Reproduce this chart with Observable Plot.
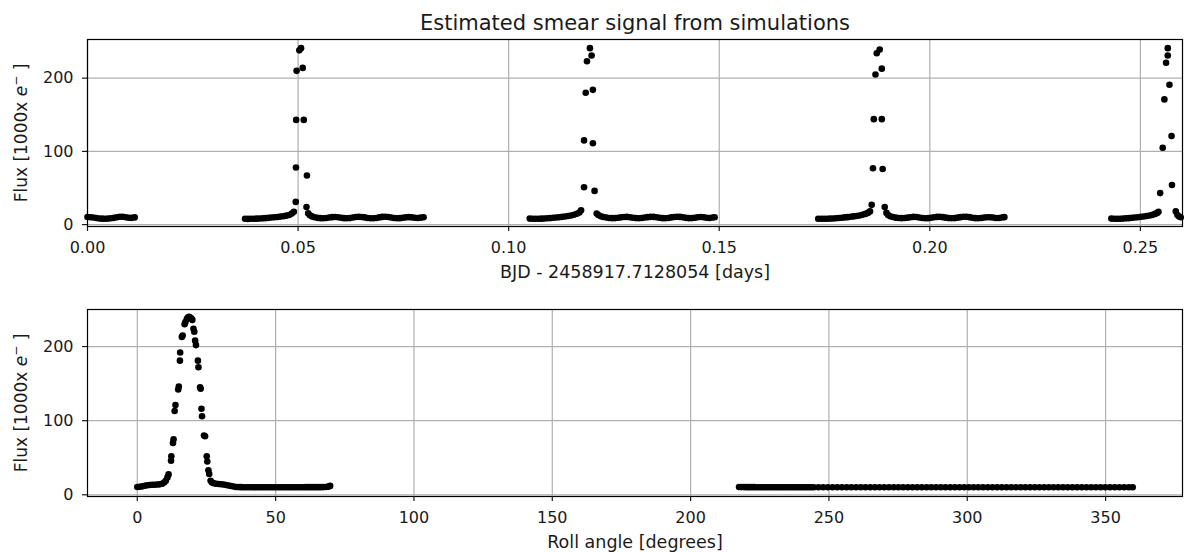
<!DOCTYPE html>
<html><head><meta charset="utf-8">
<script src="https://cdn.jsdelivr.net/npm/d3@7"></script>
<script src="https://cdn.jsdelivr.net/npm/@observablehq/plot@0.6"></script>
<style>
html,body{margin:0;padding:0;background:#fff;}
body{width:1184px;height:553px;position:relative;overflow:hidden;}
#top,#bottom{position:absolute;left:0;}
#top{top:0}#bottom{top:290px}
svg{display:block}
</style></head><body>
<div id="top"></div><div id="bottom"></div>
<script>
// ---------- texts ----------
const titleText = "Estimated smear signal from simulations";
const topXLabel = "BJD - 2458917.7128054 [days]";
const bottomXLabel = "Roll angle [degrees]";
const yLabel = "Flux [1000x e− ]";

// ---------- ticks ----------
const topXTicks = [0, 0.05, 0.10, 0.15, 0.20, 0.25];
const bottomXTicks = [0, 50, 100, 150, 200, 250, 300, 350];
const yTicks = [0, 100, 200];

// ---------- top panel: flux vs time (days), segment by segment ----------
const timeA = [0.0000,0.0007,0.0014,0.0021,0.0028,0.0035,0.0042,0.0049,0.0056,0.0063,0.0070,0.0077,0.0084,0.0091,0.0098,0.0105,0.0112];
const fluxA = [10.4,10.1,9.7,9.0,8.4,8.1,8.0,8.2,8.6,9.2,10.0,10.7,10.8,10.1,9.3,9.2,9.8];

const timeB = [0.0374,0.0381,0.0388,0.0395,0.0402,0.0409,0.0416,0.0423,0.0430,0.0437,0.0444,0.0451,0.0458,0.0465,0.0472,0.0479,0.0485,0.0490,
  0.04945,0.0495,0.04955,0.04965,0.0503,0.0507,0.0511,0.05135,0.0521,0.0520,
  0.0524,0.0528,0.0533,0.0539,0.0546,0.0553,0.0560,0.0567,0.0574,0.0581,0.0588,0.0595,0.0602,0.0609,0.0616,0.0623,0.0630,0.0637,0.0644,0.0651,0.0658,0.0665,0.0672,0.0679,0.0686,0.0693,0.0700,0.0707,0.0714,0.0721,0.0728,0.0735,0.0742,0.0749,0.0756,0.0763,0.0770,0.0777,0.0784,0.0791,0.0798];
const fluxB = [8.0,7.8,7.9,8.0,8.1,8.3,8.5,8.8,9.2,9.6,10.0,10.4,10.9,11.5,12.2,13.2,15.0,17.5,
  31,78,143,210,238,241,214,143,67,24,
  15.5,12.8,11.2,10.0,9.2,8.8,8.7,9.0,9.6,10.2,10.4,10.1,9.4,8.8,8.6,8.9,9.6,10.3,10.6,10.4,9.8,9.1,8.7,8.7,9.1,9.8,10.5,10.7,10.4,9.7,9.0,8.7,8.8,9.3,9.9,10.2,9.9,9.3,9.1,9.5,10.0];

const timeC = [0.1050,0.1057,0.1064,0.1071,0.1078,0.1085,0.1092,0.1099,0.1106,0.1113,0.1120,0.1127,0.1134,0.1141,0.1148,0.1155,0.1162,0.1168,0.1172,
  0.1179,0.1179,0.1183,0.1186,0.1193,0.1197,0.1200,0.1200,0.1204,0.1209,
  0.1213,0.1219,0.1225,0.1232,0.1239,0.1246,0.1253,0.1260,0.1267,0.1274,0.1281,0.1288,0.1295,0.1302,0.1309,0.1316,0.1323,0.1330,0.1337,0.1344,0.1351,0.1358,0.1365,0.1372,0.1379,0.1386,0.1393,0.1400,0.1407,0.1414,0.1421,0.1428,0.1435,0.1442,0.1449,0.1456,0.1463,0.1470,0.1477,0.1484,0.1489];
const fluxC = [8.2,8.0,7.9,8.0,8.1,8.3,8.6,8.9,9.3,9.7,10.1,10.6,11.1,11.7,12.4,13.4,14.8,16.5,19.5,
  51,115,180,223,241,231,184,111,46,15,
  13.0,11.5,10.4,9.6,9.1,8.8,8.9,9.3,9.9,10.4,10.5,10.1,9.4,8.9,8.7,9.0,9.6,10.2,10.6,10.5,10.0,9.3,8.8,8.7,9.1,9.8,10.4,10.7,10.5,9.9,9.2,8.8,8.9,9.4,10.0,10.3,10.0,9.4,9.1,9.6,10.1];

const timeD = [0.1735,0.1742,0.1749,0.1756,0.1763,0.1770,0.1777,0.1784,0.1791,0.1798,0.1805,0.1812,0.1819,0.1826,0.1833,0.1840,0.1847,0.1853,0.1858,
  0.1862,0.1865,0.1867,0.1871,0.1874,0.1881,0.1886,0.1886,0.1888,0.1893,
  0.1897,0.1901,0.1906,0.1912,0.1919,0.1926,0.1933,0.1940,0.1947,0.1954,0.1961,0.1968,0.1975,0.1982,0.1989,0.1996,0.2003,0.2010,0.2017,0.2024,0.2031,0.2038,0.2045,0.2052,0.2059,0.2066,0.2073,0.2080,0.2087,0.2094,0.2101,0.2108,0.2115,0.2122,0.2129,0.2136,0.2143,0.2150,0.2157,0.2164,0.2171,0.2177];
const fluxD = [8.0,7.9,7.9,8.0,8.2,8.4,8.7,9.0,9.4,9.8,10.2,10.7,11.2,11.8,12.5,13.4,14.6,16.0,18.0,
  27,77,144,205,234,239,213,144,76,24,
  16.0,13.2,11.5,10.3,9.5,9.0,8.8,9.0,9.5,10.1,10.5,10.3,9.7,9.0,8.7,8.8,9.3,10.0,10.5,10.6,10.2,9.5,8.9,8.7,8.9,9.5,10.2,10.7,10.7,10.2,9.4,8.8,8.7,9.0,9.6,10.1,10.1,9.6,9.1,9.0,9.6,10.2];

const timeE = [0.2431,0.2438,0.2445,0.2452,0.2459,0.2466,0.2473,0.2480,0.2487,0.2494,0.2501,0.2508,0.2515,0.2522,0.2529,0.2535,0.2540,
  0.2543,0.2547,0.2553,0.2557,0.2561,0.2565,0.2565,0.2569,0.2574,0.2575,
  0.2584,0.2588,0.2592,0.2596];
const fluxE = [8.2,8.0,7.9,8.0,8.2,8.5,8.8,9.2,9.6,10.1,10.6,11.1,11.7,12.4,13.3,14.6,16.0,
  17.5,43,105,171,221,231,241,191,121,54,
  18,13,11,10];

// ---------- bottom panel: flux vs roll angle (degrees) ----------
const rollLow = [0.0,0.9,1.8,2.7,3.6,4.5,5.4,6.3,7.2,8.1,9.0,9.7,10.3,10.9,11.3,
  12.2,12.3,12.9,13.1,13.5,13.8,14.8,15.0,15.4,15.5,16.1,16.4,17.1,17.4,17.9,18.3,18.7,19.1,19.5,19.9,
  20.3,20.6,20.9,21.2,21.9,22.1,22.7,22.9,23.2,23.4,24.1,24.5,25.1,25.3,25.7,26.0,26.5,27.0,
  27.6,28.5,29.4,30.3,31.2,32.1,33.0,33.9,34.8,35.7,36.6,37.5,38.4,39.3,40.2,41.1,42.0,42.9,43.8,44.7,45.6,46.5,47.4,48.3,49.2,50.1,51.0,51.9,52.8,53.7,54.6,55.5,56.4,57.3,58.2,59.1,60.0,60.9,61.8,62.7,63.6,64.5,65.4,66.3,67.2,68.1,69.0,69.7];
const fluxLow = [10.5,10.8,11.4,12.2,12.9,13.3,13.5,13.6,13.8,14.1,15.0,16.5,19.0,23.5,27.5,
  46,52,70,75,113,121,142,146,181,192,213,215,230,233,237,239,240,239,238,236,
  224,220,208,202,181,172,145,143,116,106,80,79,52,45,33,28,19,16.5,
  15.5,15.0,14.6,14.2,13.8,13.3,12.6,11.8,11.1,10.6,10.4,10.3,10.2,10.2,10.2,10.2,10.2,10.2,10.2,10.2,10.2,10.2,10.2,10.2,10.2,10.2,10.2,10.2,10.2,10.2,10.2,10.2,10.2,10.2,10.2,10.2,10.2,10.3,10.3,10.3,10.3,10.3,10.3,10.3,10.4,10.5,11.0,12.0];

const rollHigh = [217.5,218.4,219.3,220.2,221.1,222.0,222.9,223.8,224.7,225.6,226.5,227.4,228.3,229.2,230.1,231.0,231.9,232.8,233.7,234.6,235.5,236.4,237.3,238.2,239.1,240.0,240.9,241.8,242.7,243.6,244.5,
  246.2,247.9,249.6,251.3,253.0,254.7,256.4,258.1,259.8,261.5,263.2,264.9,266.6,268.3,270.0,271.7,273.4,275.1,276.8,278.5,280.2,281.9,283.6,285.3,287.0,288.7,290.4,292.1,293.8,295.5,297.2,298.9,300.6,302.3,304.0,305.7,307.4,309.1,310.8,312.5,314.2,315.9,317.6,319.3,321.0,322.7,324.4,326.1,327.8,329.5,331.2,332.9,334.6,336.3,338.0,339.7,341.4,343.1,344.8,346.5,348.2,349.9,351.6,353.3,355.0,356.7,358.4,359.8];
const fluxHigh = [10.5,10.4,10.4,10.3,10.3,10.3,10.3,10.2,10.2,10.2,10.2,10.2,10.2,10.2,10.2,10.2,10.2,10.2,10.2,10.2,10.2,10.2,10.2,10.2,10.2,10.2,10.2,10.2,10.2,10.2,10.2,
  10.2,10.2,10.2,10.2,10.2,10.2,10.2,10.2,10.2,10.2,
  10.2,10.2,10.2,10.2,10.2,10.2,10.2,10.2,10.2,10.2,
  10.2,10.2,10.2,10.2,10.2,10.2,10.2,10.2,10.2,10.2,
  10.2,10.2,10.2,10.2,10.2,10.2,10.2,10.2,10.2,10.2,
  10.2,10.2,10.2,10.2,10.2,10.2,10.2,10.2,10.2,10.2,
  10.2,10.2,10.2,10.2,10.2,10.2,10.2,10.2,10.2,10.2,
  10.2,10.2,10.2,10.2,10.2,10.2,10.2,10.2];

// ---------- build tables ----------
const pair = (xs, ys) => xs.map((x, i) => ({x, y: ys[i]}));
const topData = [
  ...pair(timeA, fluxA), ...pair(timeB, fluxB), ...pair(timeC, fluxC),
  ...pair(timeD, fluxD), ...pair(timeE, fluxE)
];
const bottomData = [...pair(rollLow, fluxLow), ...pair(rollHigh, fluxHigh)];

const FONT = "'DejaVu Sans', sans-serif";
const GRID = "#b0b0b0";

function panel({data, xDomain, xTicks, xFormat, yDomain, height, marginTop, marginBottom, xLabel, title}) {
  const marks = [
    Plot.gridX({ticks: xTicks, stroke: GRID, strokeOpacity: 1, strokeWidth: 1.2}),
    Plot.gridY({ticks: yTicks, stroke: GRID, strokeOpacity: 1, strokeWidth: 1.2}),
    Plot.dot(data, {x: "x", y: "y", r: 3.3, fill: "black"}),
    Plot.frame({stroke: "black", strokeWidth: 1.2}),
    Plot.axisX({ticks: xTicks, tickFormat: xFormat, tickSize: 5, tickPadding: 10, label: null, strokeWidth: 1.2, fontSize: 16}),
    Plot.axisY({ticks: yTicks, tickSize: 5, tickPadding: 9, label: null, strokeWidth: 1.2, fontSize: 16}),
    Plot.text([xLabel], {text: d => d, frameAnchor: "bottom", dy: 51, lineAnchor: "bottom", textAnchor: "middle", fontSize: 17.5}),
    Plot.text([yLabel], {text: d => d, frameAnchor: "left", dx: -61, rotate: -90, lineAnchor: "bottom", textAnchor: "middle", fontSize: 17})
  ];
  if (title) marks.push(Plot.text([title], {text: d => d, frameAnchor: "top", dy: -10, lineAnchor: "bottom", textAnchor: "middle", fontSize: 21}));
  const svg = Plot.plot({
    width: 1184, height, marginLeft: 87, marginRight: 2, marginTop, marginBottom,
    style: {fontFamily: FONT, fontSize: "16px", color: "#1a1a1a", background: "white"},
    x: {domain: xDomain},
    y: {domain: yDomain},
    marks
  });
  d3.select(svg).selectAll("text").filter(function () { return this.textContent === yLabel; }).each(function () {
    const t = d3.select(this);
    t.text(null);
    t.append("tspan").text("Flux [1000x ");
    t.append("tspan").attr("font-style", "italic").text("e");
    t.append("tspan").attr("font-size", "12px").attr("dy", "-7").text("−");
    t.append("tspan").attr("dy", "7").text(" ]");
  });
  return svg;
}

document.getElementById("top").append(panel({
  data: topData, xDomain: [0, 0.26], xTicks: topXTicks, xFormat: d3.format(".2f"),
  yDomain: [-2.6, 252.8], height: 290, marginTop: 39, marginBottom: 64,
  xLabel: topXLabel, title: titleText
}));
document.getElementById("bottom").append(panel({
  data: bottomData, xDomain: [-18, 377.8], xTicks: bottomXTicks, xFormat: d3.format("d"),
  yDomain: [-2.3, 250], height: 263, marginTop: 19, marginBottom: 57,
  xLabel: bottomXLabel, title: null
}));
</script>
</body></html>
